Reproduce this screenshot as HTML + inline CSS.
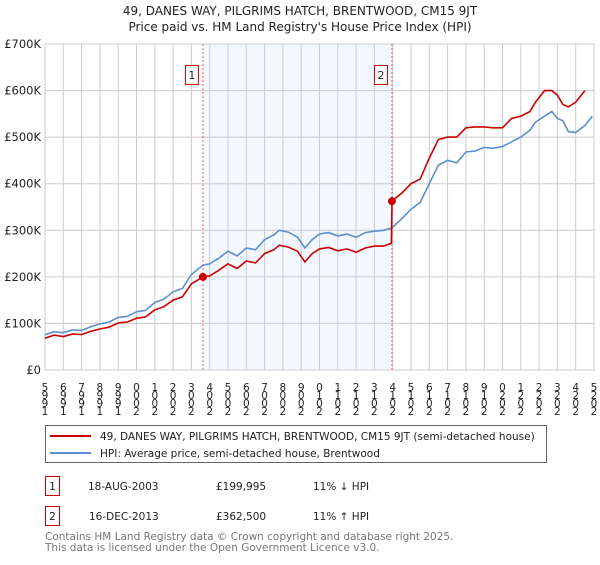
<!DOCTYPE html>
<html><head><meta charset="utf-8"><style>
body{margin:0;background:#fff;font-family:"Liberation Sans","DejaVu Sans",sans-serif}
svg text{font-family:"DejaVu Sans","Liberation Sans",sans-serif}
</style></head><body>
<svg id="c" width="600" height="560" xmlns="http://www.w3.org/2000/svg">
<text x="300" y="15" text-anchor="middle" font-size="12" fill="#222">49, DANES WAY, PILGRIMS HATCH, BRENTWOOD, CM15 9JT</text>
<text x="300" y="31" text-anchor="middle" font-size="12" fill="#222">Price paid vs. HM Land Registry's House Price Index (HPI)</text>
<g id="plot"></g>
<g>
<rect x="45.5" y="425.5" width="501" height="37" fill="#fff" stroke="#666"/>
<line x1="50" y1="436" x2="91" y2="436" stroke="#cc0000" stroke-width="2"/>
<text x="100" y="440" font-size="10.5" fill="#222">49, DANES WAY, PILGRIMS HATCH, BRENTWOOD, CM15 9JT (semi-detached house)</text>
<line x1="50" y1="453" x2="91" y2="453" stroke="#5b8fd0" stroke-width="2"/>
<text x="100" y="457" font-size="10.5" fill="#222">HPI: Average price, semi-detached house, Brentwood</text>
</g>
<g font-size="10.5" fill="#222">
<rect x="45.5" y="476.5" width="14" height="19" fill="#fff" stroke="#cc0000"/>
<text x="52.5" y="490" text-anchor="middle">1</text>
<text x="88" y="490">18-AUG-2003</text><text x="216" y="490">£199,995</text><text x="313" y="490">11% ↓ HPI</text>
<rect x="45.5" y="506.5" width="14" height="19" fill="#fff" stroke="#cc0000"/>
<text x="52.5" y="520" text-anchor="middle">2</text>
<text x="89" y="520">16-DEC-2013</text><text x="216" y="520">£362,500</text><text x="313" y="520">11% ↑ HPI</text>
</g>
<text x="45" y="540" font-size="10.5" fill="#777">Contains HM Land Registry data © Crown copyright and database right 2025.</text>
<text x="45" y="551" font-size="10.5" fill="#777">This data is licensed under the Open Government Licence v3.0.</text>
</svg>
<script>
const years=[1995,1996,1997,1998,1999,2000,2001,2002,2003,2004,2005,2006,2007,2008,2009,2010,2011,2012,2013,2014,2015,2016,2017,2018,2019,2020,2021,2022,2023,2024,2025];
const yTicks=[0,100,200,300,400,500,600,700];
const yLabels=["£0","£100K","£200K","£300K","£400K","£500K","£600K","£700K"];
const hpiDates=[1995,1995.5,1996,1996.5,1997,1997.5,1998,1998.5,1999,1999.5,2000,2000.5,2001,2001.5,2002,2002.5,2003,2003.63,2004,2004.5,2005,2005.5,2006,2006.5,2007,2007.5,2007.8,2008.3,2008.8,2009.2,2009.6,2010,2010.5,2011,2011.5,2012,2012.5,2013,2013.5,2013.95,2014.5,2015,2015.5,2016,2016.5,2017,2017.5,2018,2018.5,2019,2019.5,2020,2020.5,2021,2021.5,2021.8,2022.3,2022.7,2023,2023.3,2023.6,2024,2024.5,2024.9];
const hpiValues=[76,82,80,86,85,93,99,103,113,115,125,128,145,152,168,175,205,225,228,240,255,245,262,258,280,290,300,296,285,262,280,292,295,288,292,285,295,298,300,305,325,345,360,400,440,450,445,468,470,478,476,480,490,500,515,532,545,555,540,535,512,510,525,545];
const saleDates=[1995,1995.5,1996,1996.5,1997,1997.5,1998,1998.5,1999,1999.5,2000,2000.5,2001,2001.5,2002,2002.5,2003,2003.63,2004,2004.5,2005,2005.5,2006,2006.5,2007,2007.5,2007.8,2008.3,2008.8,2009.2,2009.6,2010,2010.5,2011,2011.5,2012,2012.5,2013,2013.5,2013.93,2013.96,2014.5,2015,2015.5,2016,2016.5,2017,2017.5,2018,2018.5,2019,2019.5,2020,2020.5,2021,2021.5,2021.8,2022.3,2022.7,2023,2023.3,2023.6,2024,2024.5,2024.9];
const saleValues=[68,75,72,77,76,83,88,92,101,103,111,114,129,136,150,157,185,200,202,214,228,218,234,230,250,258,268,264,255,232,250,260,263,256,260,253,262,266,266,272,362.5,380,400,410,455,495,500,500,520,522,522,520,520,540,545,555,575,600,600,590,570,565,575,600];
const sales=[{d:2003.63,v:199.995,n:"1"},{d:2013.96,v:362.5,n:"2"}];
const X0=45,X1=594,Y0=370,Y1=44;
const sx=d=>X0+(d-1995)/(2025-1995)*(X1-X0);
const sy=v=>Y0-v/700*(Y0-Y1);
const ns="http://www.w3.org/2000/svg";
const g=document.getElementById('plot');
function el(t,a,p){const e=document.createElementNS(ns,t);for(const k in a)e.setAttribute(k,a[k]);(p||g).appendChild(e);return e;}
const sh=el('rect',{x:sx(sales[0].d),y:Y1,width:sx(sales[1].d)-sx(sales[0].d),height:Y0-Y1,fill:'#eef3fd',opacity:0.7});


years.forEach(y=>{
 const l=el('line',{x1:sx(y),x2:sx(y),y1:Y1,y2:Y0,stroke:'#ccc'});
 
 
 const t=el('text',{'text-anchor':'middle','font-size':10.5,fill:'#222'});
 
 
 String(y).split('').forEach((ch,k)=>{
  const s=document.createElementNS(ns,'tspan');
  s.setAttribute('x',sx(y).toFixed(1));
  s.setAttribute('y',(415-k*8).toFixed(1));
  s.textContent=ch;
  t.appendChild(s);
 });
});
yTicks.forEach((v,i)=>{
 const l=el('line',{x1:X0,x2:X1,y1:sy(v),y2:sy(v),stroke:'#ccc'});
 
 
 const t=el('text',{x:X0-4,y:sy(v)+4,'text-anchor':'end','font-size':11.5,fill:'#222'});
 t.textContent=yLabels[i];
 
 
});
const fr=el('rect',{x:X0,y:Y1,width:X1-X0,height:Y0-Y1,fill:'none',stroke:'#ccc'});


sales.forEach(s=>{
 const l=el('line',{x1:sx(s.d),x2:sx(s.d),y1:Y1,y2:Y0,stroke:'#e06070','stroke-dasharray':'2,2'});
 
 
 const r=el('rect',{x:sx(s.d)-17.5,y:65.5,width:13,height:19,fill:'#fff',stroke:'#cc0000'});
 
 
 const t=el('text',{x:sx(s.d)-11,y:79,'text-anchor':'middle','font-size':11,fill:'#222'});
 t.textContent=s.n;
 
 
});
const hp=el('path',{d:hpiDates.map((d,i)=>(i?'L':'M')+sx(d).toFixed(1)+','+sy(hpiValues[i]).toFixed(1)).join(''),fill:'none',stroke:'#5b8fd0','stroke-width':1.6});


const pp=el('path',{d:saleDates.map((d,i)=>(i?'L':'M')+sx(d).toFixed(1)+','+sy(saleValues[i]).toFixed(1)).join(''),fill:'none',stroke:'#cc0000','stroke-width':1.6});


sales.forEach(s=>{
 const c=el('circle',{cx:sx(s.d),cy:sy(s.v),r:4,fill:'#cc0000'});
 
 
});
</script>
</body></html>
